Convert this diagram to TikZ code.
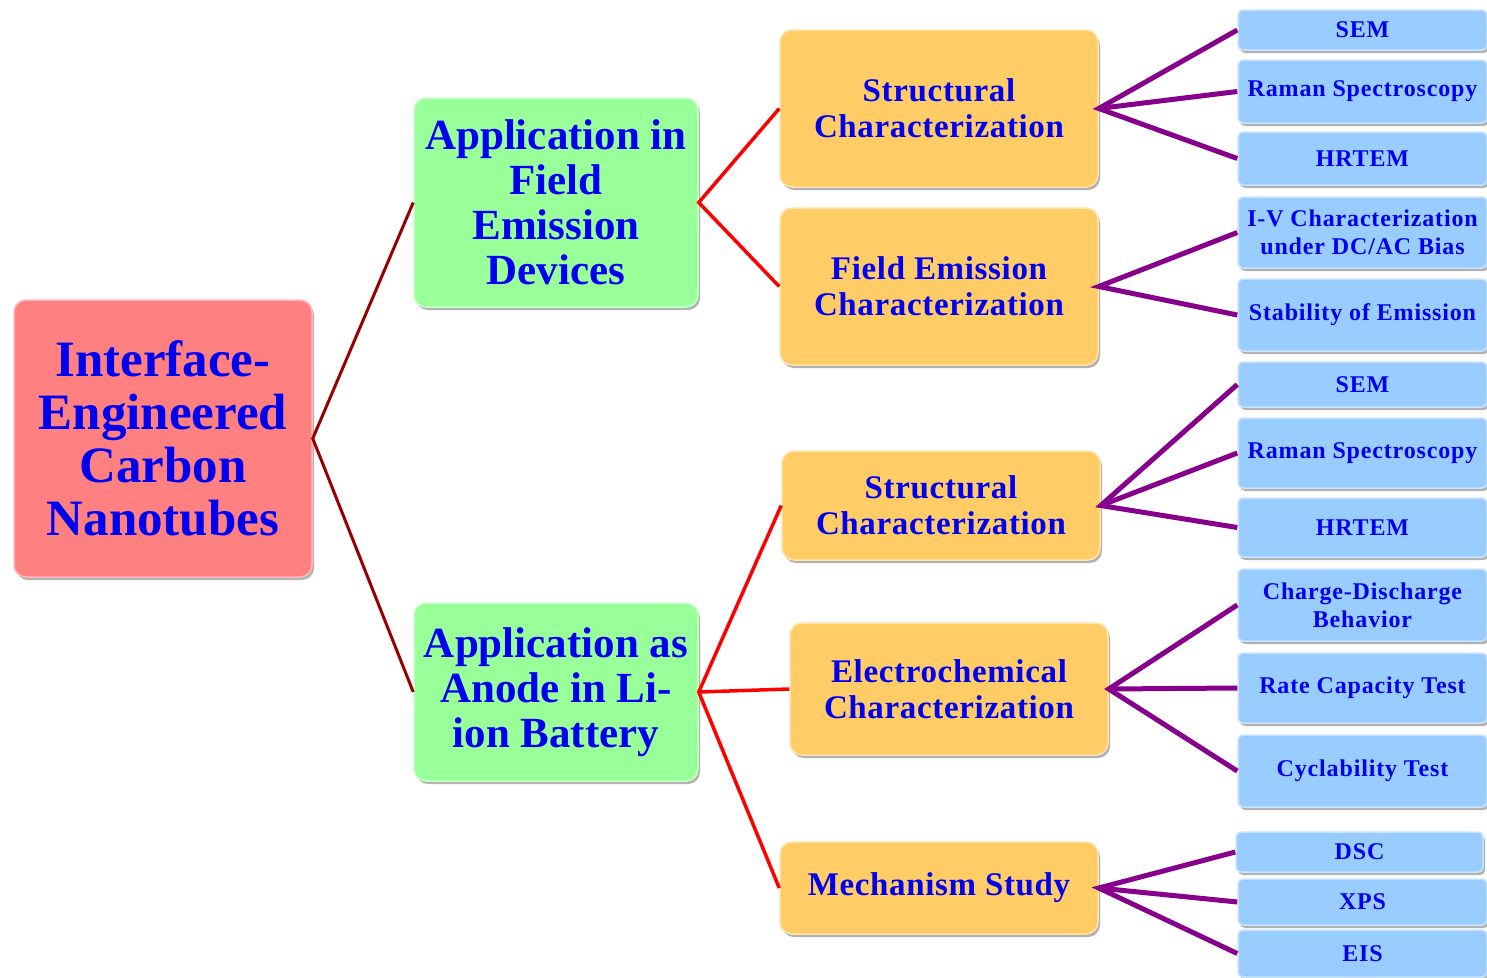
\documentclass[tikz,border=0pt]{standalone}
\usepackage{fontspec}
\setmainfont{Liberation Serif}
\usetikzlibrary{shadows}
\definecolor{rootpink}{RGB}{255,128,128}
\definecolor{appgreen}{RGB}{153,255,153}
\definecolor{charorange}{RGB}{255,204,102}
\definecolor{testblue}{RGB}{153,204,255}
\definecolor{textblue}{RGB}{0,0,240}
\definecolor{rootlinkred}{RGB}{150,0,0}
\definecolor{linkpurple}{RGB}{135,0,140}

\begin{document}
\begin{tikzpicture}[x=1pt,y=-1pt]
\tikzset{
  box/.style={rectangle,rounded corners=12pt,fill=#1,draw=#1!55!white,line width=1.5pt,
    text=textblue,align=center,inner sep=0pt,
    drop shadow={shadow xshift=2pt,shadow yshift=-3pt,opacity=0.3,fill=black}},
  rootbox/.style={box=rootpink,minimum width=298pt,minimum height=277pt,
    font=\fontsize{51}{53}\selectfont\bfseries},
  appbox/.style={box=appgreen,minimum width=284pt,
    font=\fontsize{43}{45}\selectfont\bfseries},
  charbox/.style={box=charorange,minimum width=318pt,
    font=\fontsize{33}{36}\selectfont\bfseries\addfontfeature{LetterSpace=2}},
  testbox/.style={box=testblue,rounded corners=5pt,minimum width=249pt,
    font=\fontsize{24}{28}\selectfont\bfseries\addfontfeature{LetterSpace=3.5}},
  rootlink/.style={line width=3pt,rootlinkred},
  redlink/.style={line width=3.5pt,red},
  purplelink/.style={line width=5pt,linkpurple}
}
\useasboundingbox (0,0) rectangle (1487,977);
\node[rootbox] (n_root) at (163,438.5) {Interface-\\Engineered\\Carbon\\Nanotubes};
\node[appbox,minimum height=209pt] (n_fe) at (556,202.5) {Application in\\Field\\Emission\\Devices};
\node[appbox,minimum height=178pt] (n_li) at (556,692) {Application as\\Anode in Li-\\ion Battery};
\node[charbox,minimum height=157pt] (n_sc1) at (939,108.5) {Structural\\Characterization};
\node[charbox,minimum height=157pt] (n_fec) at (939,286.5) {Field Emission\\Characterization};
\node[charbox,minimum height=109pt] (n_sc2) at (941,505.5) {Structural\\Characterization};
\node[charbox,minimum height=132pt] (n_ec) at (949,689) {Electrochemical\\Characterization};
\node[charbox,minimum height=92pt] (n_ms) at (939,888) {Mechanism Study};
\node[testbox,minimum height=40pt] (t_sem1) at (1362.5,30) {SEM};
\node[testbox,minimum height=63pt] (t_raman1) at (1362.5,91.5) {Raman Spectroscopy};
\node[testbox,minimum height=53pt] (t_hrtem1) at (1362.5,158.5) {HRTEM};
\node[testbox,minimum height=71pt] (t_iv) at (1362.5,232.5) {I-V Characterization\\under DC/AC Bias};
\node[testbox,minimum height=72pt] (t_stab) at (1362.5,315) {Stability of Emission};
\node[testbox,minimum height=45pt] (t_sem2) at (1362.5,384.5) {SEM};
\node[testbox,minimum height=70pt] (t_raman2) at (1362.5,453) {Raman Spectroscopy};
\node[testbox,minimum height=59pt] (t_hrtem2) at (1362.5,527.5) {HRTEM};
\node[testbox,minimum height=72pt] (t_cd) at (1362.5,605) {Charge-Discharge\\Behavior};
\node[testbox,minimum height=70pt] (t_rate) at (1362.5,688) {Rate Capacity Test};
\node[testbox,minimum height=72pt] (t_cyc) at (1362.5,771) {Cyclability Test};
\node[testbox,minimum width=247pt,minimum height=40pt] (t_dsc) at (1359.5,852) {DSC};
\node[testbox,minimum height=46pt] (t_xps) at (1362.5,902) {XPS};
\node[testbox,minimum height=47pt] (t_eis) at (1362.5,953.5) {EIS};
\draw[rootlink] (n_fe.west) -- (n_root.east) -- (n_li.west);
\draw[redlink] (n_sc1.west) -- (n_fe.east) -- (n_fec.west);
\draw[redlink] (n_sc2.west) -- (n_li.east) -- (n_ms.west);
\draw[redlink] (n_li.east) -- (n_ec.west);
\draw[purplelink] (t_sem1.west) -- (n_sc1.east) -- (t_hrtem1.west);
\draw[purplelink] (n_sc1.east) -- (t_raman1.west);
\draw[purplelink] (t_iv.west) -- (n_fec.east) -- (t_stab.west);
\draw[purplelink] (t_sem2.west) -- (n_sc2.east) -- (t_hrtem2.west);
\draw[purplelink] (n_sc2.east) -- (t_raman2.west);
\draw[purplelink] (t_cd.west) -- (n_ec.east) -- (t_cyc.west);
\draw[purplelink] (n_ec.east) -- (t_rate.west);
\draw[purplelink] (t_dsc.west) -- (n_ms.east) -- (t_eis.west);
\draw[purplelink] (n_ms.east) -- (t_xps.west);
\end{tikzpicture}
\end{document}
